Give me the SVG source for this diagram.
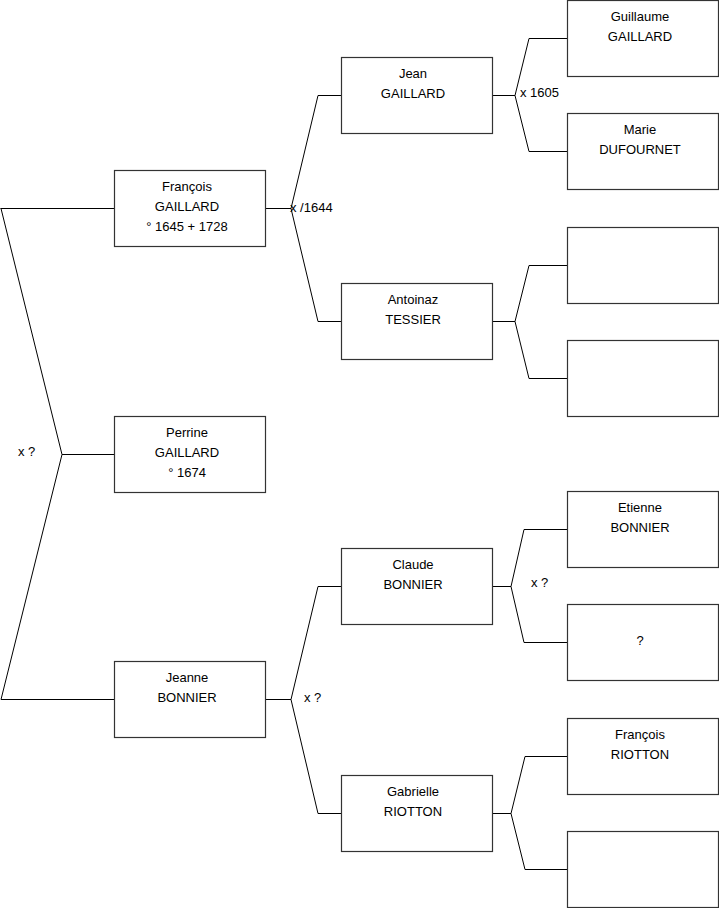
<svg xmlns="http://www.w3.org/2000/svg" width="719" height="908" viewBox="0 0 719 908">
<style>
.box{fill:#fff;stroke:#333;stroke-width:1.2}
.t{font-family:"Liberation Sans",Arial,sans-serif;font-size:13px;fill:#000;text-anchor:middle}
.l{font-family:"Liberation Sans",Arial,sans-serif;font-size:13px;fill:#000}
.c{fill:none;stroke:#000;stroke-width:1}
</style>
<rect width="719" height="908" fill="#fff"/>
<g id="connectors">
<path class="c" d="M0.5,208.5H114M1,208.5L62,454.5L1,699.5H114M62,454.5H114"/>
<path class="c" d="M265,208.5H291M341,95.5H318L291,208.5L318,321.5H341"/>
<path class="c" d="M492,95.5H515M567,38.5H529L515,95.5L529,151.5H567"/>
<path class="c" d="M492,321.5H515M567,265.5H529L515,321.5L529,378.5H567"/>
<path class="c" d="M265,699.5H291M341,586.5H318L291,699.5L318,813.5H341"/>
<path class="c" d="M492,586.5H511M567,529.5H524L511,586.5L524,642.5H567"/>
<path class="c" d="M492,813.5H511M567,756.5H525L511,813.5L525,869.5H567"/>
<text class="l" x="18" y="456">x ?</text>
<text class="l" x="290" y="212">x /1644</text>
<text class="l" x="520" y="97">x 1605</text>
<text class="l" x="531" y="587">x ?</text>
<text class="l" x="304" y="702">x ?</text>
</g>
<g id="francois"><rect class="box" x="114.5" y="170.5" width="151" height="76"/><text class="t" x="187" y="191">François</text><text class="t" x="187" y="211">GAILLARD</text><text class="t" x="187" y="231">° 1645 + 1728</text></g>
<g id="perrine"><rect class="box" x="114.5" y="416.5" width="151" height="76"/><text class="t" x="187" y="437">Perrine</text><text class="t" x="187" y="457">GAILLARD</text><text class="t" x="187" y="477">° 1674</text></g>
<g id="jeanne"><rect class="box" x="114.5" y="661.5" width="151" height="76"/><text class="t" x="187" y="682">Jeanne</text><text class="t" x="187" y="702">BONNIER</text></g>
<g id="jean"><rect class="box" x="341.5" y="57.5" width="151" height="76"/><text class="t" x="413" y="78">Jean</text><text class="t" x="413" y="98">GAILLARD</text></g>
<g id="antoinaz"><rect class="box" x="341.5" y="283.5" width="151" height="76"/><text class="t" x="413" y="304">Antoinaz</text><text class="t" x="413" y="324">TESSIER</text></g>
<g id="claude"><rect class="box" x="341.5" y="548.5" width="151" height="76"/><text class="t" x="413" y="569">Claude</text><text class="t" x="413" y="589">BONNIER</text></g>
<g id="gabrielle"><rect class="box" x="341.5" y="775.5" width="151" height="76"/><text class="t" x="413" y="796">Gabrielle</text><text class="t" x="413" y="816">RIOTTON</text></g>
<g id="guillaume"><rect class="box" x="567.5" y="0.5" width="151" height="76"/><text class="t" x="640" y="21">Guillaume</text><text class="t" x="640" y="41">GAILLARD</text></g>
<g id="marie"><rect class="box" x="567.5" y="113.5" width="151" height="76"/><text class="t" x="640" y="134">Marie</text><text class="t" x="640" y="154">DUFOURNET</text></g>
<g id="empty1"><rect class="box" x="567.5" y="227.5" width="151" height="76"/></g>
<g id="empty2"><rect class="box" x="567.5" y="340.5" width="151" height="76"/></g>
<g id="etienne"><rect class="box" x="567.5" y="491.5" width="151" height="76"/><text class="t" x="640" y="512">Etienne</text><text class="t" x="640" y="532">BONNIER</text></g>
<g id="unknown"><rect class="box" x="567.5" y="604.5" width="151" height="76"/><text class="t" x="640" y="645">?</text></g>
<g id="francoisriotton"><rect class="box" x="567.5" y="718.5" width="151" height="76"/><text class="t" x="640" y="739">François</text><text class="t" x="640" y="759">RIOTTON</text></g>
<g id="empty3"><rect class="box" x="567.5" y="831.5" width="151" height="76"/></g>
</svg>
